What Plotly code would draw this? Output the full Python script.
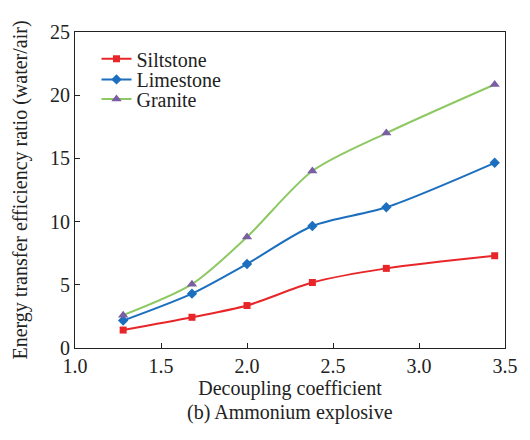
import plotly.graph_objects as go

coef = [1.28, 1.68, 2.0, 2.38, 2.81, 3.44]
siltstone = [1.42, 2.43, 3.36, 5.18, 6.3, 7.3]
limestone = [2.17, 4.3, 6.65, 9.65, 11.13, 14.65]
granite = [2.6, 5.05, 8.78, 14.0, 17.0, 20.85]

FONT = "Times New Roman, Liberation Serif, serif"
TXT = "#222"
FS = 20
fig = go.Figure()
fig.add_trace(go.Scatter(x=coef, y=siltstone, name="Siltstone", mode="lines+markers", legend="legend",
                         line=dict(color="#e8262a", width=2, shape="spline", smoothing=0.8),
                         marker=dict(symbol="square", size=7, color="#e8262a")))
fig.add_trace(go.Scatter(x=coef, y=limestone, name="Limestone", mode="lines+markers", legend="legend2",
                         line=dict(color="#1c6fbe", width=2, shape="spline", smoothing=0.8),
                         marker=dict(symbol="diamond", size=8, color="#1c6fbe")))
fig.add_trace(go.Scatter(x=coef, y=granite, name="Granite", mode="lines+markers", legend="legend3",
                         line=dict(color="#8dc863", width=2, shape="spline", smoothing=0.8),
                         marker=dict(symbol="triangle-up", size=9, color="#7a5ea3")))

def leg(y):
    return dict(x=0.05, y=y, xanchor="left", yanchor="middle", bgcolor="rgba(0,0,0,0)",
                font=dict(family=FONT, size=FS, color=TXT), itemwidth=30, borderwidth=0)

# page body has an 8px margin: size the figure so the plot area lands where the reference has it
fig.update_layout(
    width=522, height=432,
    margin=dict(l=67, r=16, t=24, b=92),
    paper_bgcolor="white", plot_bgcolor="white",
    font=dict(family=FONT, size=FS, color=TXT),
    showlegend=True,
    legend=leg(0.915), legend2=leg(0.85), legend3=leg(0.788),
    xaxis=dict(range=[1.0, 3.5], tickvals=[1.0, 1.5, 2.0, 2.5, 3.0, 3.5],
               ticktext=["1.0", "1.5", "2.0", "2.5", "3.0", "3.5"],
               tickfont=dict(family=FONT, size=FS, color=TXT),
               ticks="inside", ticklen=5, tickcolor=TXT, showline=True, linecolor=TXT,
               linewidth=1.2, mirror=True, showgrid=False, zeroline=False,
               title=dict(text="Decoupling coefficient", standoff=0,
                          font=dict(family=FONT, size=FS, color=TXT))),
    yaxis=dict(range=[0, 25], tickvals=[0, 5, 10, 15, 20, 25],
               tickfont=dict(family=FONT, size=FS, color=TXT),
               ticks="inside", ticklen=5, tickcolor=TXT, showline=True, linecolor=TXT,
               linewidth=1.2, mirror=True, showgrid=False, zeroline=False,
               title=dict(text="Energy transfer efficiency ratio (water/air)", standoff=16,
                          font=dict(family=FONT, size=FS, color=TXT))),
    annotations=[dict(text="(b) Ammonium explosive", xref="paper", yref="paper",
                      x=0.5, y=-0.16, xanchor="center", yanchor="top", showarrow=False,
                      font=dict(family=FONT, size=FS, color=TXT))],
)
fig.write_html("out.html")
